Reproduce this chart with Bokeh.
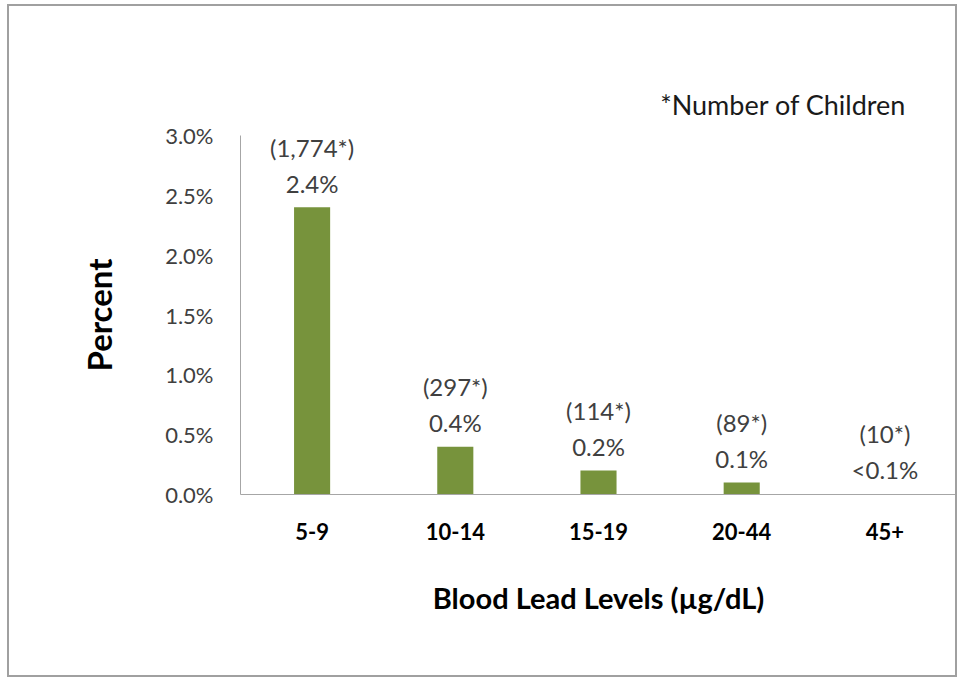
from bokeh.plotting import figure
from bokeh.models import (ColumnDataSource, LabelSet, FixedTicker,
                          PrintfTickFormatter, FactorRange, Range1d)
from bokeh.core.properties import value
from bokeh.embed import file_html
from bokeh.resources import INLINE

# ---- data ----
categories = ["5-9", "10-14", "15-19", "20-44", "45+"]
percents = [2.4, 0.4, 0.2, 0.1, 0.005]
pct_labels = ["2.4%", "0.4%", "0.2%", "0.1%", "<0.1%"]
count_labels = ["(1,774*)", "(297*)", "(114*)", "(89*)", "(10*)"]
y_ticks = [0.0, 0.5, 1.0, 1.5, 2.0, 2.5, 3.0]

FONT = "Lato"
BAR = "#77933C"
AXIS = "#a6a6a6"
TXT = "#404040"

source = ColumnDataSource(dict(cat=categories, pct=percents,
                               plabel=pct_labels, clabel=count_labels))

p = figure(x_range=FactorRange(*categories, range_padding=0),
           y_range=Range1d(0, 3.0),
           width=950, height=673,
           output_backend="svg", toolbar_location=None,
           min_border_left=231, min_border_right=3,
           min_border_top=129, min_border_bottom=185)
p.styles = {"border": "2px solid #a0a0a0", "margin": "4px 0 0 7px"}
p.outline_line_color = None
p.xgrid.grid_line_color = None
p.ygrid.grid_line_color = None
p.background_fill_color = "white"
p.border_fill_color = "white"

p.vbar(x="cat", top="pct", width=0.252, source=source,
       fill_color=BAR, line_color=None)

# note, as title
p.title.text = "*Number of Children"
p.title.align = "right"
p.title.offset = 50
p.title.standoff = 29
p.title.text_font = FONT
p.title.text_font_size = "27px"
p.title.text_font_style = "normal"
p.title.text_color = "#1a1a1a"

# y axis
p.yaxis.ticker = FixedTicker(ticks=y_ticks)
p.yaxis.formatter = PrintfTickFormatter(format="%.1f%%")
p.yaxis.major_tick_line_color = None
p.yaxis.minor_tick_line_color = None
p.yaxis.axis_line_color = AXIS
p.yaxis.major_label_standoff = 21
p.yaxis.major_label_text_font = FONT
p.yaxis.major_label_text_font_size = "22px"
p.yaxis.major_label_text_color = TXT
p.yaxis.axis_label = "Percent"
p.yaxis.axis_label_standoff = 43
p.yaxis.axis_label_text_font = FONT
p.yaxis.axis_label_text_font_size = "33px"
p.yaxis.axis_label_text_font_style = "bold"
p.yaxis.axis_label_text_color = "black"

# x axis
p.xaxis.major_tick_line_color = None
p.xaxis.minor_tick_line_color = None
p.xaxis.axis_line_color = AXIS
p.xaxis.major_label_standoff = 22
p.xaxis.major_label_text_font = FONT
p.xaxis.major_label_text_font_size = "22px"
p.xaxis.major_label_text_font_style = "bold"
p.xaxis.major_label_text_color = "black"
p.xaxis.axis_label = "Blood Lead Levels (µg/dL)"
p.xaxis.axis_label_standoff = 37
p.xaxis.axis_label_text_font = FONT
p.xaxis.axis_label_text_font_size = "29px"
p.xaxis.axis_label_text_font_style = "bold"
p.xaxis.axis_label_text_color = "black"

# data labels
p.add_layout(LabelSet(x="cat", y="pct", text="plabel", source=source,
                      y_offset=24, text_align="center", text_baseline="middle",
                      text_font=value(FONT), text_font_size="24px",
                      text_color=TXT))
p.add_layout(LabelSet(x="cat", y="pct", text="clabel", source=source,
                      y_offset=60, text_align="center", text_baseline="middle",
                      text_font=value(FONT), text_font_size="24px",
                      text_color=TXT))

open("out.html", "w").write(file_html(p, INLINE))
